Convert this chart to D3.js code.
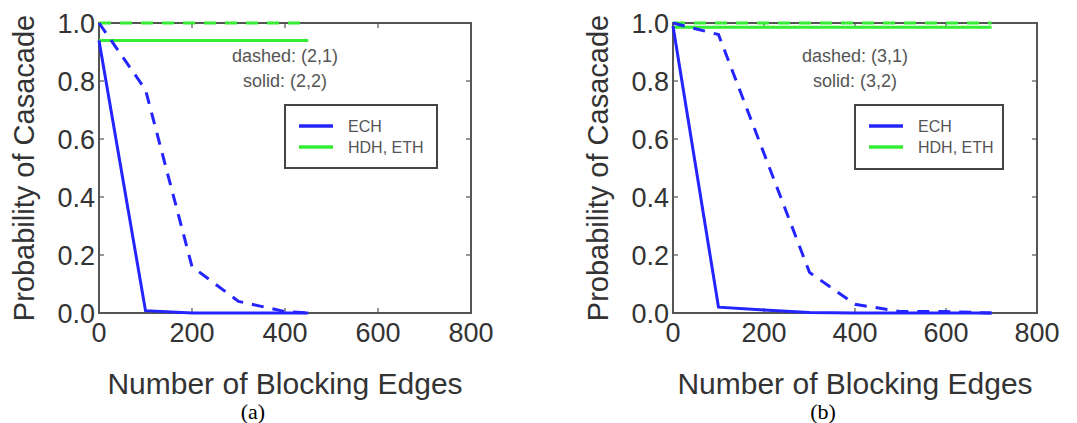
<!DOCTYPE html>
<html>
<head>
<meta charset="utf-8">
<script src="https://cdn.jsdelivr.net/npm/d3@7"></script>
<style>
  body { margin: 0; background: #fff; }
</style>
</head>
<body>
<svg id="chart" width="1077" height="423"></svg>
<script>
const width = 1077;
const height = 423;

// panel (a)
const xA = [0, 100, 200, 300, 400, 450];
const echSolidA = [0.94, 0.008, 0, 0, 0, 0];
const echDashedA = [1.0, 0.77, 0.16, 0.04, 0.005, 0];
const hdhSolidA = [0.94, 0.94, 0.94, 0.94, 0.94, 0.94];
const hdhDashedA = [1.0, 1.0, 1.0, 1.0, 1.0, 1.0];

// panel (b)
const xB = [0, 100, 200, 300, 400, 500, 600, 700];
const echSolidB = [0.99, 0.02, 0.01, 0.002, 0, 0, 0, 0];
const echDashedB = [1.0, 0.96, 0.55, 0.14, 0.03, 0.005, 0.005, 0];
const hdhSolidB = [0.985, 0.985, 0.985, 0.985, 0.985, 0.985, 0.985, 0.985];
const hdhDashedB = [1.0, 1.0, 1.0, 1.0, 1.0, 1.0, 1.0, 1.0];

const xTicks = [0, 200, 400, 600, 800];
const yTicks = [0.0, 0.2, 0.4, 0.6, 0.8, 1.0];
const legendNames = ["ECH", "HDH, ETH"];

const blue = "#2424ff";
const green = "#33ee33";
const sans = "'Liberation Sans', Arial, sans-serif";

const svg = d3.select("#chart")
    .attr("width", width)
    .attr("height", height)
    .attr("font-family", sans);

const panels = [
    {left: 99, right: 471, top: 23, bottom: 313, label: "(a)",
     notes: ["dashed: (2,1)", "solid: (2,2)"], xs: xA,
     lines: [[hdhDashedA, green, true], [hdhSolidA, green, false],
             [echDashedA, blue, true], [echSolidA, blue, false]],
     legend: {x: 285, y: 105, w: 152, h: 63}},
    {left: 673, right: 1037, top: 23, bottom: 313, label: "(b)",
     notes: ["dashed: (3,1)", "solid: (3,2)"], xs: xB,
     lines: [[hdhDashedB, green, true], [hdhSolidB, green, false],
             [echDashedB, blue, true], [echSolidB, blue, false]],
     legend: {x: 855, y: 105, w: 148, h: 64}}
];

panels.forEach(p => {
    const x = d3.scaleLinear().domain([0, 800]).range([p.left, p.right]);
    const y = d3.scaleLinear().domain([0, 1]).range([p.bottom, p.top]);
    const g = svg.append("g");
    const cx = (p.left + p.right) / 2;
    const cy = (p.top + p.bottom) / 2;

    // frame
    g.append("rect")
        .attr("x", p.left).attr("y", p.top)
        .attr("width", p.right - p.left).attr("height", p.bottom - p.top)
        .attr("fill", "none").attr("stroke", "#555").attr("stroke-width", 2);

    // inside ticks, all four sides
    const tick = g.append("g").attr("stroke", "#555").attr("stroke-width", 1.2);
    xTicks.forEach(t => {
        tick.append("line").attr("x1", x(t)).attr("x2", x(t)).attr("y1", p.bottom).attr("y2", p.bottom - 5);
        tick.append("line").attr("x1", x(t)).attr("x2", x(t)).attr("y1", p.top).attr("y2", p.top + 5);
    });
    yTicks.forEach(t => {
        tick.append("line").attr("x1", p.left).attr("x2", p.left + 5).attr("y1", y(t)).attr("y2", y(t));
        tick.append("line").attr("x1", p.right).attr("x2", p.right - 5).attr("y1", y(t)).attr("y2", y(t));
    });

    g.selectAll("text.xt")
        .data(xTicks)
        .enter().append("text")
        .attr("x", d => x(d))
        .attr("y", p.bottom + 29)
        .attr("text-anchor", "middle")
        .attr("font-size", "27px")
        .attr("fill", "#333")
        .text(d => d);

    g.selectAll("text.yt")
        .data(yTicks)
        .enter().append("text")
        .attr("x", p.left - 4)
        .attr("y", d => y(d))
        .attr("dy", "0.36em")
        .attr("text-anchor", "end")
        .attr("font-size", "27px")
        .attr("fill", "#333")
        .text(d => d3.format(".1f")(d));

    // series
    const line = d3.line()
        .x((d, i) => x(p.xs[i]))
        .y(d => y(d));

    p.lines.forEach(([vals, color, dashed]) => {
        g.append("path")
            .datum(vals)
            .attr("d", line)
            .attr("fill", "none")
            .attr("stroke", color)
            .attr("stroke-width", 3)
            .attr("stroke-dasharray", dashed ? "12,9" : null);
    });

    // notes
    p.notes.forEach((n, i) => {
        g.append("text")
            .attr("x", cx)
            .attr("y", 62 + i * 25)
            .attr("text-anchor", "middle")
            .attr("font-size", "18px")
            .attr("fill", "#555")
            .text(n);
    });

    // legend
    const lg = p.legend;
    g.append("rect")
        .attr("x", lg.x).attr("y", lg.y)
        .attr("width", lg.w).attr("height", lg.h)
        .attr("fill", "#fff").attr("stroke", "#444").attr("stroke-width", 2);
    legendNames.forEach((name, i) => {
        const ly = lg.y + 21 + i * 21;
        g.append("line")
            .attr("x1", lg.x + 14).attr("x2", lg.x + 48)
            .attr("y1", ly).attr("y2", ly)
            .attr("stroke", i === 0 ? blue : green)
            .attr("stroke-width", 3.5);
        g.append("text")
            .attr("x", lg.x + 63)
            .attr("y", ly)
            .attr("dy", "0.36em")
            .attr("font-size", "16px")
            .attr("fill", "#555")
            .text(name);
    });

    // axis titles
    g.append("text")
        .attr("x", cx)
        .attr("y", p.bottom + 81)
        .attr("text-anchor", "middle")
        .attr("font-size", "30px")
        .attr("fill", "#333")
        .text("Number of Blocking Edges");

    g.append("text")
        .attr("transform", `translate(${p.left - 65},${cy}) rotate(-90)`)
        .attr("text-anchor", "middle")
        .attr("font-size", "29px")
        .attr("fill", "#333")
        .text("Probability of Casacade");

    g.append("text")
        .attr("x", cx - 32)
        .attr("y", 419)
        .attr("text-anchor", "middle")
        .attr("font-family", "'Liberation Serif', 'DejaVu Serif', serif")
        .attr("font-size", "22px")
        .attr("fill", "#000")
        .text(p.label);
});
</script>
</body>
</html>
